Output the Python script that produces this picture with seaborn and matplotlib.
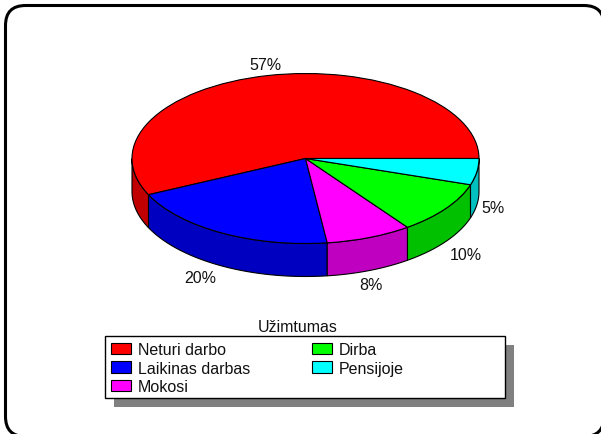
import numpy as np
import matplotlib
matplotlib.use("Agg")
import matplotlib.pyplot as plt
from matplotlib.patches import FancyBboxPatch, Rectangle
import seaborn as sns

categories = ["Neturi darbo", "Laikinas darbas", "Mokosi", "Dirba", "Pensijoje"]
shares = [57, 20, 8, 10, 5]
top_colors = ["#FF0000", "#0000FF", "#FF00FF", "#00FF00", "#00FFFF"]
side_colors = ["#C00000", "#0000C0", "#C000C0", "#00C000", "#00C0C0"]
legend_title = "Užimtumas"

sns.set_theme(style="white")
plt.rcParams["font.family"] = ["Liberation Sans", "DejaVu Sans"]
FS = 11.5
W, H = 601, 435
CX, CY, RX, RY, DEPTH = 305.5, 159.5, 173.5, 85, 33

fig = plt.figure(figsize=(W / 100, H / 100), dpi=100, facecolor="white")
bg = fig.add_axes([0, 0, 1, 1], zorder=0)
bg.set_xlim(0, W)
bg.set_ylim(H, 0)
bg.axis("off")

# Outer rounded frame: its right and bottom sides run off the picture
bg.add_patch(FancyBboxPatch((25.5, 26.5), 558.5, 391, boxstyle="round,pad=20,rounding_size=20",
                            fc="white", ec="black", lw=2.2))
bg.add_patch(Rectangle((114, 346), 400, 62, fc="#808080", ec="none"))
bg.add_patch(Rectangle((105, 337), 400, 62, fc="white", ec="black", lw=1.0, zorder=3))

pie_ax = fig.add_axes([0, 0, 1, 1], zorder=1)
pie_ax.patch.set_alpha(0)
wedges, _ = pie_ax.pie(shares, colors=sns.color_palette(top_colors), startangle=0, counterclock=True,
                       wedgeprops=dict(edgecolor="black", linewidth=0.8, zorder=3))
pie_ax.set_aspect("auto")
pie_ax.set_xlim(-CX / RX, (W - CX) / RX)
pie_ax.set_ylim((CY - H) / RY, CY / RY)
pie_ax.axis("off")

# Side wall of the visible (front) half of each slice
edges = np.cumsum([0] + shares) / sum(shares) * 360
d = DEPTH / RY
for a0, a1, col in zip(edges[:-1], edges[1:], side_colors):
    lo, hi = max(a0, 180), a1
    if hi <= lo:
        continue
    t = np.radians(np.linspace(lo, hi, 60))
    xs = np.cos(t)
    ys = np.sin(t)
    pie_ax.fill(np.r_[xs, xs[::-1]], np.r_[ys, ys[::-1] - d], fc=col, ec="black", lw=0.8, zorder=2)

label_xy = [(265, 66), (200, 279), (371, 286), (466, 255), (493, 209)]
for v, (x, y) in zip(shares, label_xy):
    bg.text(x, y, f"{v}%", ha="center", va="center", fontsize=FS, color="#111111", zorder=5)

bg.text(298, 328, legend_title, ha="center", va="center", fontsize=FS, color="#111111")
leg = bg.legend(wedges, categories, ncols=2, loc="upper left",
                bbox_to_anchor=(104, 336), bbox_transform=bg.transData,
                borderaxespad=0, borderpad=0.42, fontsize=FS, frameon=False,
                handlelength=1.26, handleheight=0.7,
                handletextpad=0.43, labelspacing=0.24, columnspacing=3.86, labelcolor="#111111")
leg.set_zorder(6)

fig.savefig("out.png", dpi=100)
